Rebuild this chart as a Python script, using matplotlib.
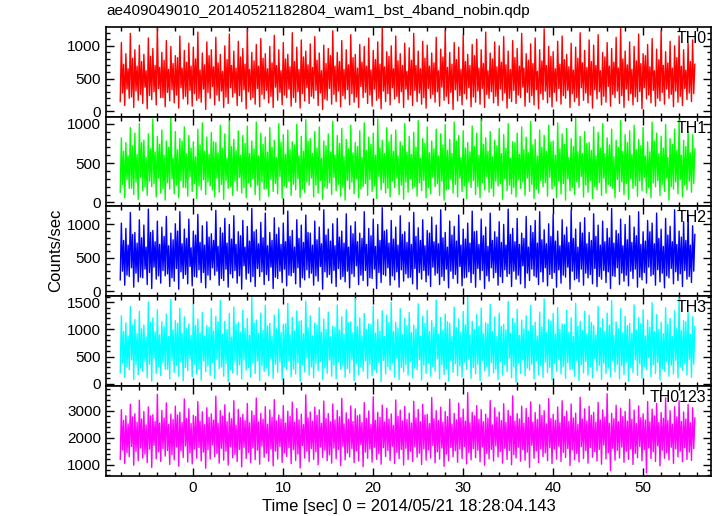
import numpy as np
import matplotlib
matplotlib.use('Agg')
import matplotlib.pyplot as plt
from matplotlib.ticker import MultipleLocator

plt.rcParams['font.family'] = ['Liberation Sans', 'DejaVu Sans']

title = 'ae409049010_20140521182804_wam1_bst_4band_nobin.qdp'
xlabel = 'Time [sec] 0 = 2014/05/21 18:28:04.143'
ylabel = 'Counts/sec'

t_start = -8.1   # first bin [sec]
t_bin = 0.5      # bin width of the read-off values [sec]

# per-bin excursions (counts/sec):
# hi / lo = outer spikes, mhi / mlo = inner (dense) part of the band
th0_hi = [1050, 880, 1190, 940, 1010, 870, 1120, 960, 1290, 900, 1080, 990, 850, 1150, 930, 1040,
          980, 1210, 890, 1060, 940, 1130, 870, 1000, 1180, 920, 1070, 960, 1250, 900, 1020, 1110,
          880, 990, 1160, 940, 1050, 870, 1200, 980, 1090, 920, 1030, 1140, 890, 1010, 960, 1230,
          900, 1080, 940, 1170, 870, 1020, 990, 1120, 930, 1060, 1270, 910, 1000, 1150, 880, 1040,
          970, 1190, 920, 1070, 1010, 890, 1130, 950, 1240, 900, 1050, 980, 1160, 870, 1020, 1100,
          940, 1210, 890, 1060, 1000, 1140, 920, 1080, 960, 1190, 880, 1030, 1120, 940, 1260, 990,
          910, 1070, 1150, 870, 1040, 980, 1200, 930, 1090, 1010, 1170, 900, 1050, 960, 1130, 1280,
          920, 1060, 990, 1180, 880, 1020, 1110, 950, 1230, 910, 1070, 1000, 1150, 940, 1040, 1090]
th0_lo = [150, 90, 200, 60, 170, 120, 40, 180, 100, 210, 70, 160, 130, 50, 190, 110,
          80, 170, 140, 30, 200, 100, 160, 60, 120, 220, 90, 150, 40, 180, 110, 70,
          190, 130, 60, 170, 100, 210, 80, 140, 50, 160, 120, 200, 90, 30, 170, 110,
          150, 70, 190, 100, 140, 60, 210, 120, 80, 170, 40, 150, 100, 190, 130, 60,
          180, 90, 150, 110, 50, 200, 140, 80, 170, 120, 30, 160, 100, 190, 70, 140,
          110, 60, 200, 130, 90, 170, 50, 150, 120, 210, 80, 140, 100, 40, 180, 130,
          70, 160, 110, 200, 60, 150, 90, 170, 130, 50, 190, 100, 140, 80, 210, 120,
          60, 170, 100, 150, 40, 190, 130, 80, 160, 110, 200, 70, 140, 90, 180, 150]
th0_mhi = [720, 650, 810, 690, 760, 620, 840, 700, 670, 780, 640, 730, 820, 660, 750, 690,
           800, 630, 710, 850, 680, 740, 610, 790, 700, 660, 830, 720, 640, 770, 690, 810,
           650, 740, 700, 620, 800, 680, 760, 640, 830, 710, 670, 780, 620, 730, 850, 690,
           760, 640, 710, 820, 660, 750, 690, 630, 790, 720, 680, 840, 650, 770, 700, 610,
           780, 700, 650, 810, 690, 740, 620, 830, 670, 720, 790, 640, 760, 700, 850, 660,
           730, 620, 800, 680, 750, 710, 640, 820, 690, 660, 780, 730, 610, 770, 700, 840,
           650, 720, 790, 680, 630, 810, 740, 670, 760, 700, 620, 830, 690, 750, 660, 800,
           710, 640, 770, 730, 850, 680, 620, 790, 700, 740, 660, 820, 690, 630, 760, 720]
th0_mlo = [280, 340, 220, 310, 260, 370, 240, 300, 350, 210, 290, 330, 250, 360, 230, 320,
           270, 200, 340, 290, 380, 250, 310, 220, 360, 280, 240, 330, 300, 210, 350, 260,
           320, 230, 370, 290, 250, 340, 210, 300, 270, 360, 230, 320, 280, 190, 350, 260,
           310, 240, 330, 270, 220, 380, 290, 250, 340, 200, 310, 270, 360, 230, 300, 340,
           250, 320, 280, 210, 350, 260, 300, 370, 230, 290, 330, 240, 270, 360, 220, 310,
           350, 260, 300, 230, 340, 280, 200, 320, 250, 370, 290, 240, 330, 270, 310, 220,
           290, 350, 240, 320, 270, 210, 360, 280, 250, 330, 300, 230, 380, 260, 310, 240,
           340, 270, 220, 300, 360, 250, 320, 200, 290, 340, 260, 310, 230, 350, 280, 270]

th1_hi = [820, 760, 950, 880, 1000, 790, 870, 1060, 840, 920, 780, 1080, 900, 810, 960, 850,
          770, 930, 1010, 830, 890, 760, 980, 870, 1040, 800, 910, 850, 970, 780, 1020, 880,
          830, 950, 790, 1000, 860, 920, 770, 990, 840, 1050, 810, 900, 960, 780, 870, 1030,
          850, 940, 800, 980, 760, 910, 1010, 830, 880, 1060, 790, 950, 860, 920, 770, 1000,
          840, 890, 1040, 810, 960, 780, 930, 870, 990, 800, 1020, 850, 910, 760, 970, 880,
          1050, 820, 900, 790, 940, 860, 1000, 770, 880, 960, 830, 1030, 800, 920, 850, 980,
          780, 1010, 870, 940, 810, 1070, 840, 900, 760, 960, 890, 1000, 820, 930, 790, 1040,
          860, 910, 980, 800, 950, 770, 1020, 880, 840, 990, 810, 930, 1050, 790, 900, 860]
th1_lo = [130, 60, 180, 100, 40, 150, 90, 200, 70, 120, 30, 170, 110, 60, 190, 80,
          140, 50, 160, 100, 210, 70, 130, 40, 180, 90, 150, 120, 60, 200, 100, 30,
          170, 80, 140, 110, 50, 190, 90, 160, 60, 130, 220, 70, 120, 40, 180, 100,
          150, 80, 30, 170, 110, 60, 200, 90, 140, 50, 160, 120, 70, 190, 100, 40,
          130, 180, 80, 150, 60, 110, 200, 90, 30, 170, 120, 70, 140, 50, 190, 100,
          60, 160, 130, 80, 210, 40, 150, 110, 70, 180, 90, 140, 50, 120, 200, 80,
          170, 60, 110, 30, 150, 100, 190, 70, 130, 50, 160, 90, 120, 210, 60, 140,
          100, 40, 180, 80, 150, 120, 60, 200, 90, 140, 30, 170, 110, 70, 160, 130]
th1_mhi = [650, 590, 720, 610, 760, 570, 680, 640, 740, 600, 700, 560, 670, 780, 620, 690,
           580, 730, 650, 610, 770, 630, 690, 560, 710, 660, 600, 750, 620, 680, 590, 740,
           640, 700, 570, 760, 610, 670, 730, 590, 650, 780, 620, 690, 560, 720, 640, 600,
           750, 580, 680, 630, 710, 570, 660, 740, 600, 690, 620, 770, 650, 590, 720, 640,
           610, 700, 560, 750, 630, 680, 590, 730, 660, 620, 780, 570, 690, 640, 710, 600,
           740, 650, 580, 720, 620, 690, 560, 760, 610, 670, 630, 730, 590, 700, 650, 770,
           600, 680, 740, 570, 710, 640, 620, 750, 660, 590, 690, 620, 730, 580, 700, 650,
           760, 610, 670, 720, 590, 640, 780, 620, 690, 570, 740, 660, 600, 710, 630, 680]
th1_mlo = [230, 290, 180, 260, 320, 200, 270, 240, 310, 170, 250, 300, 220, 280, 190, 330,
           240, 210, 290, 260, 160, 310, 230, 280, 200, 270, 320, 190, 250, 300, 220, 260,
           180, 290, 240, 330, 210, 270, 230, 300, 170, 260, 310, 220, 280, 200, 250, 320,
           230, 190, 280, 260, 300, 170, 240, 290, 210, 330, 250, 180, 270, 310, 220, 260,
           300, 200, 250, 280, 190, 320, 240, 270, 160, 290, 230, 310, 210, 260, 280, 200,
           250, 330, 180, 270, 240, 300, 220, 190, 290, 260, 310, 230, 170, 280, 250, 320,
           210, 270, 240, 300, 190, 260, 330, 220, 280, 200, 250, 310, 230, 180, 290, 260,
           240, 300, 210, 270, 320, 190, 250, 280, 230, 310, 200, 260, 290, 220, 270, 240]

th2_hi = [1020, 940, 1180, 880, 1070, 990, 1230, 910, 1050, 960, 1120, 870, 1010, 1190, 930, 1080,
          900, 1150, 980, 1040, 860, 1210, 950, 1090, 1000, 1130, 890, 1060, 970, 1240, 920, 1030,
          1170, 880, 1100, 950, 1020, 1200, 910, 1070, 990, 1140, 870, 1050, 960, 1220, 930, 1010,
          1090, 900, 1160, 980, 1040, 870, 1190, 940, 1080, 1000, 1250, 920, 1060, 960, 1130, 890,
          1030, 1180, 950, 1070, 910, 1110, 990, 1220, 880, 1050, 970, 1140, 930, 1020, 1200, 900,
          1080, 960, 1170, 890, 1040, 1000, 1230, 940, 1090, 870, 1120, 980, 1060, 1190, 920, 1010,
          1150, 900, 1070, 960, 1210, 930, 1030, 1100, 880, 1160, 990, 1050, 940, 1240, 910, 1080,
          1000, 1130, 960, 1190, 890, 1060, 1020, 1170, 930, 1090, 970, 1220, 900, 1040, 1140, 980]
th2_lo = [170, 90, 220, 60, 140, 200, 100, 40, 180, 120, 230, 70, 150, 30, 190, 110,
          80, 210, 130, 50, 170, 240, 90, 160, 60, 200, 120, 30, 180, 140, 70, 220,
          100, 160, 40, 190, 130, 80, 230, 110, 60, 170, 200, 90, 150, 30, 210, 120,
          70, 180, 140, 50, 220, 100, 160, 80, 190, 40, 130, 230, 90, 170, 60, 150,
          200, 110, 30, 180, 140, 70, 240, 100, 160, 50, 190, 120, 80, 210, 130, 60,
          170, 40, 150, 200, 90, 130, 220, 70, 180, 110, 50, 160, 230, 100, 140, 80,
          190, 60, 120, 210, 30, 170, 140, 90, 200, 110, 70, 180, 130, 40, 220, 100,
          150, 80, 190, 60, 170, 120, 230, 90, 140, 50, 200, 110, 160, 70, 180, 130]
th2_mhi = [760, 690, 850, 720, 800, 660, 880, 740, 700, 820, 680, 770, 900, 710, 790, 650,
           840, 730, 690, 810, 760, 670, 870, 720, 780, 700, 830, 660, 750, 890, 710, 800,
           680, 760, 850, 700, 740, 820, 660, 790, 730, 880, 690, 770, 710, 840, 750, 680,
           810, 720, 660, 860, 740, 790, 700, 830, 670, 760, 900, 720, 780, 690, 850, 730,
           700, 820, 760, 680, 870, 740, 710, 800, 660, 840, 750, 690, 780, 720, 890, 700,
           830, 670, 760, 810, 730, 690, 850, 740, 700, 790, 660, 880, 720, 770, 710, 820,
           750, 680, 840, 730, 790, 660, 870, 710, 760, 820, 690, 740, 800, 720, 860, 680,
           770, 730, 830, 700, 750, 890, 710, 790, 670, 840, 740, 700, 810, 760, 690, 850]
th2_mlo = [300, 240, 350, 270, 210, 330, 280, 360, 230, 310, 260, 200, 340, 290, 250, 370,
           220, 320, 280, 240, 350, 300, 190, 330, 260, 310, 230, 380, 270, 220, 340, 290,
           250, 360, 210, 300, 330, 240, 280, 350, 200, 320, 270, 230, 370, 290, 250, 310,
           340, 220, 300, 260, 380, 240, 310, 200, 330, 280, 250, 350, 230, 290, 320, 260,
           210, 340, 280, 310, 240, 360, 270, 220, 330, 300, 250, 370, 200, 290, 260, 340,
           310, 230, 350, 280, 220, 320, 260, 300, 240, 380, 270, 330, 210, 290, 350, 250,
           280, 320, 240, 360, 300, 190, 330, 270, 250, 340, 220, 310, 290, 230, 350, 270,
           240, 300, 330, 210, 280, 360, 250, 320, 270, 230, 340, 290, 260, 310, 220, 300]

th3_hi = [1250, 1120, 1420, 1180, 1330, 1080, 1500, 1210, 1360, 1140, 1280, 1550, 1160, 1390, 1230, 1100,
          1460, 1190, 1310, 1070, 1380, 1240, 1530, 1150, 1290, 1410, 1130, 1350, 1200, 1590, 1170, 1300,
          1440, 1110, 1260, 1370, 1090, 1480, 1220, 1340, 1160, 1520, 1250, 1120, 1400, 1190, 1320, 1060,
          1450, 1230, 1360, 1140, 1570, 1210, 1290, 1100, 1430, 1180, 1340, 1260, 1500, 1130, 1380, 1200,
          1310, 1080, 1470, 1240, 1350, 1160, 1540, 1220, 1280, 1110, 1410, 1190, 1330, 1600, 1150, 1270,
          1390, 1120, 1460, 1230, 1300, 1090, 1510, 1200, 1370, 1170, 1250, 1440, 1130, 1320, 1560, 1180,
          1290, 1400, 1100, 1350, 1210, 1480, 1150, 1330, 1260, 1070, 1420, 1190, 1300, 1530, 1140, 1380,
          1240, 1110, 1450, 1220, 1360, 1170, 1490, 1270, 1130, 1400, 1200, 1340, 1580, 1160, 1310, 1230]
th3_lo = [200, 120, 260, 80, 170, 230, 110, 50, 190, 150, 270, 90, 210, 140, 60, 240,
          130, 180, 70, 220, 160, 100, 280, 140, 40, 200, 170, 90, 250, 120, 190, 60,
          230, 150, 100, 210, 70, 260, 130, 180, 50, 220, 160, 110, 240, 80, 190, 140,
          90, 270, 120, 200, 60, 170, 230, 100, 150, 210, 40, 180, 250, 130, 80, 220,
          160, 110, 260, 70, 190, 140, 230, 90, 170, 50, 210, 150, 120, 270, 100, 180,
          60, 240, 140, 200, 80, 160, 220, 110, 30, 190, 150, 250, 90, 170, 120, 210,
          70, 230, 180, 100, 260, 140, 60, 200, 160, 110, 240, 80, 190, 130, 220, 90,
          170, 50, 210, 150, 100, 260, 130, 190, 70, 230, 140, 180, 110, 250, 160, 120]
th3_mhi = [960, 880, 1080, 920, 1010, 860, 1130, 950, 900, 1050, 870, 990, 1110, 930, 1020, 890,
           1070, 940, 880, 1040, 970, 1140, 910, 1000, 860, 1090, 950, 1020, 890, 1120, 930, 980,
           1060, 870, 1010, 940, 1100, 900, 970, 1150, 920, 1030, 880, 1080, 950, 1000, 860, 1040,
           990, 910, 1120, 940, 1050, 880, 1000, 1090, 930, 970, 870, 1130, 960, 1020, 900, 1070,
           940, 1010, 880, 1110, 960, 1040, 910, 990, 1140, 870, 1030, 950, 1080, 900, 1000, 1060,
           920, 1100, 960, 870, 1050, 990, 930, 1120, 890, 1010, 970, 1070, 880, 1040, 940, 1150,
           910, 1000, 1090, 950, 870, 1060, 980, 920, 1130, 900, 1030, 960, 1080, 890, 1010, 940,
           1070, 930, 990, 1110, 880, 1040, 960, 1000, 920, 1090, 870, 1020, 980, 1140, 910, 1050]
th3_mlo = [380, 310, 440, 350, 290, 410, 360, 470, 320, 390, 270, 430, 340, 400, 300, 460,
           360, 280, 420, 330, 390, 450, 310, 370, 260, 410, 350, 440, 300, 380, 420, 330,
           290, 460, 360, 400, 320, 430, 270, 390, 350, 480, 310, 370, 410, 290, 440, 340,
           400, 330, 280, 450, 370, 310, 420, 360, 260, 390, 430, 320, 380, 470, 300, 350,
           410, 290, 440, 340, 380, 310, 460, 350, 280, 420, 370, 330, 400, 450, 300, 360,
           430, 320, 390, 270, 410, 350, 470, 310, 380, 440, 290, 360, 420, 330, 400, 300,
           370, 450, 320, 390, 280, 430, 350, 410, 310, 460, 340, 380, 290, 420, 360, 330,
           400, 300, 440, 370, 320, 480, 350, 390, 280, 410, 340, 430, 310, 370, 450, 360]

th0123_hi = [3050, 2820, 3250, 2900, 3400, 2980, 3150, 2860, 3620, 3020, 3300, 2880, 3180, 2950, 3450, 3080,
             2840, 3350, 2970, 3120, 2890, 3550, 3010, 3230, 2930, 3380, 3060, 2870, 3280, 3000, 3480, 2910,
             3160, 3040, 3420, 2850, 3200, 2990, 3330, 3090, 2880, 3600, 2960, 3140, 3040, 3370, 2900, 3260,
             3020, 3470, 2930, 3190, 3080, 2860, 3310, 3000, 3530, 2950, 3220, 3100, 2890, 3410, 3030, 3170,
             2920, 3360, 3060, 3250, 2870, 3500, 3010, 3140, 2980, 3440, 2910, 3290, 3070, 3680, 2950, 3200,
             3050, 2880, 3390, 3120, 2960, 3270, 3020, 3560, 2900, 3180, 3090, 3340, 2940, 3230, 3010, 3460,
             2870, 3150, 3380, 2990, 3260, 2920, 3510, 3080, 3170, 2950, 3320, 3040, 3640, 2910, 3210, 3100,
             2980, 3430, 3030, 3190, 2890, 3350, 3070, 3280, 2940, 3490, 3010, 3160, 3380, 2960, 3240, 3120]
th0123_lo = [1200, 1050, 1300, 980, 1150, 1250, 1080, 900, 1220, 1120, 1320, 1010, 1180, 950, 1270, 1100,
             1030, 1240, 1140, 870, 1210, 1300, 1060, 1170, 990, 1260, 1120, 920, 1230, 1080, 1190, 1020,
             1280, 1130, 960, 1210, 1090, 1310, 1040, 1160, 880, 1250, 1110, 1200, 1000, 1270, 1150, 1060,
             1220, 970, 1180, 1290, 1080, 1140, 930, 1240, 1100, 1200, 1020, 1310, 1160, 1050, 1230, 990,
             1190, 1120, 1280, 1010, 1170, 1250, 1070, 1210, 940, 1150, 1300, 1090, 1230, 1030, 1180, 1260,
             1110, 980, 1220, 1140, 1290, 1060, 1200, 1000, 1250, 1130, 1170, 900, 1240, 1080, 1300, 1150,
             1040, 1210, 1120, 1270, 970, 1190, 1100, 1230, 1060, 1280, 1140, 1020, 1220, 780, 1170, 1250,
             1090, 1200, 1010, 1260, 1150, 700, 1230, 1120, 960, 1240, 1180, 1050, 1290, 1110, 1200, 1160]
th0123_mhi = [2650, 2520, 2780, 2580, 2700, 2480, 2820, 2610, 2550, 2740, 2500, 2680, 2850, 2570, 2720, 2530,
              2790, 2620, 2490, 2760, 2660, 2540, 2810, 2600, 2710, 2470, 2750, 2640, 2560, 2830, 2590, 2690,
              2510, 2770, 2630, 2700, 2550, 2800, 2580, 2670, 2490, 2740, 2620, 2840, 2540, 2720, 2600, 2660,
              2780, 2520, 2690, 2610, 2820, 2570, 2730, 2500, 2650, 2760, 2590, 2700, 2460, 2800, 2630, 2680,
              2550, 2740, 2600, 2850, 2530, 2710, 2640, 2580, 2790, 2510, 2670, 2750, 2620, 2560, 2820, 2690,
              2600, 2730, 2480, 2770, 2640, 2570, 2810, 2620, 2700, 2540, 2760, 2590, 2680, 2830, 2520, 2720,
              2650, 2560, 2790, 2610, 2740, 2500, 2700, 2630, 2840, 2580, 2660, 2770, 2540, 2710, 2600, 2800,
              2620, 2690, 2530, 2750, 2660, 2590, 2820, 2570, 2730, 2640, 2510, 2780, 2610, 2700, 2560, 2740]
th0123_mlo = [1550, 1450, 1680, 1500, 1620, 1400, 1580, 1720, 1480, 1600, 1530, 1380, 1660, 1520, 1700, 1440,
              1590, 1640, 1470, 1560, 1730, 1420, 1610, 1500, 1670, 1390, 1570, 1650, 1460, 1620, 1540, 1700,
              1430, 1590, 1510, 1680, 1450, 1630, 1560, 1400, 1710, 1500, 1600, 1480, 1660, 1540, 1370, 1620,
              1570, 1690, 1440, 1600, 1520, 1740, 1470, 1580, 1650, 1410, 1630, 1530, 1690, 1460, 1570, 1610,
              1500, 1670, 1430, 1590, 1550, 1710, 1480, 1620, 1400, 1640, 1520, 1580, 1680, 1450, 1600, 1540,
              1660, 1420, 1570, 1700, 1490, 1610, 1530, 1380, 1650, 1560, 1470, 1720, 1510, 1590, 1440, 1630,
              1580, 1690, 1460, 1600, 1550, 1410, 1670, 1520, 1640, 1490, 1570, 1730, 1450, 1610, 1530, 1660,
              1500, 1590, 1420, 1680, 1560, 1620, 1480, 1700, 1540, 1440, 1650, 1590, 1510, 1630, 1470, 1600]

bands = ['TH0', 'TH1', 'TH2', 'TH3', 'TH0123']
his = [th0_hi, th1_hi, th2_hi, th3_hi, th0123_hi]
los = [th0_lo, th1_lo, th2_lo, th3_lo, th0123_lo]
mhis = [th0_mhi, th1_mhi, th2_mhi, th3_mhi, th0123_mhi]
mlos = [th0_mlo, th1_mlo, th2_mlo, th3_mlo, th0123_mlo]
colors = ['#ff0000', '#00ff00', '#0000ff', '#00ffff', '#ff00ff']
ylims = [(-80, 1290), (-50, 1090), (-75, 1270), (-40, 1610), (590, 3930)]
yticks = [[0, 500, 1000], [0, 500, 1000], [0, 500, 1000], [0, 500, 1000, 1500], [1000, 2000, 3000]]
yminor = [100, 100, 100, 100, 200]

fig, axes = plt.subplots(5, 1, sharex=True, figsize=(7.17, 5.16), dpi=100)
fig.subplots_adjust(left=0.148, right=0.992, top=0.948, bottom=0.078, hspace=0)

for i, ax in enumerate(axes):
    n = min(len(his[i]), len(los[i]), len(mhis[i]), len(mlos[i]))
    # 4 samples per bin: low, high, inner low, inner high
    x = t_start + t_bin * 0.25 * np.arange(4 * n)
    y = np.column_stack([los[i][:n], his[i][:n], mlos[i][:n], mhis[i][:n]]).ravel()
    ax.plot(x, y, color=colors[i], lw=1.0)
    ax.set_ylim(*ylims[i])
    ax.set_yticks(yticks[i])
    ax.yaxis.set_minor_locator(MultipleLocator(yminor[i]))
    ax.text(0.992, 0.955, bands[i], transform=ax.transAxes, ha='right', va='top', fontsize=11.5)
    ax.tick_params(which='both', direction='in', top=True, right=True, labelsize=11, width=1)
    ax.tick_params(which='major', length=6)
    ax.tick_params(which='minor', length=3)
    for s in ax.spines.values():
        s.set_linewidth(1.2)

axes[-1].set_xlim(-9.67, 57.6)
axes[-1].xaxis.set_major_locator(MultipleLocator(10))
axes[-1].xaxis.set_minor_locator(MultipleLocator(2))
axes[-1].set_xlabel(xlabel, fontsize=12, labelpad=3)
fig.text(0.077, 0.515, ylabel, rotation=90, ha='center', va='center', fontsize=12)
fig.text(0.149, 0.965, title, ha='left', va='bottom', fontsize=11)

plt.savefig('out.png', dpi=100)
